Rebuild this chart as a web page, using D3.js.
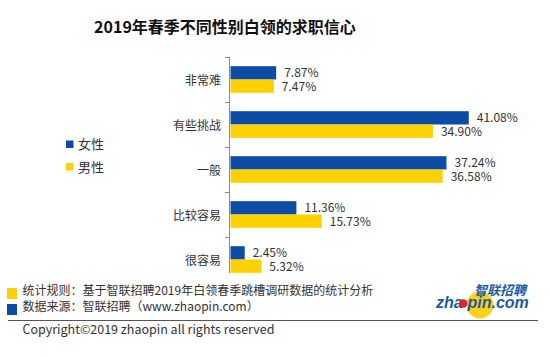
<!DOCTYPE html>
<html><head><meta charset="utf-8">
<script src="https://cdn.jsdelivr.net/npm/d3@7"></script>
<style>
body{margin:0;background:#fff;}
svg{display:block;font-family:"Noto Sans CJK SC","Noto Sans",sans-serif;}
</style></head>
<body>
<svg id="chart" width="550" height="357"></svg>
<script>
const title = "2019年春季不同性别白领的求职信心";
const categories = ["非常难", "有些挑战", "一般", "比较容易", "很容易"];
const seriesNames = ["女性", "男性"];
const female = [7.87, 41.08, 37.24, 11.36, 2.45];
const male = [7.47, 34.90, 36.58, 15.73, 5.32];
const colors = ["#0c4ca6", "#fdd000"];
const footnotes = ["统计规则：基于智联招聘2019年白领春季跳槽调研数据的统计分析", "数据来源：智联招聘（www.zhaopin.com）"];
const copyright = "Copyright©2019 zhaopin all rights reserved";

const svg = d3.select("#chart");
svg.append("rect").attr("width",550).attr("height",357).attr("fill","#fff");

svg.append("text").attr("x",225).attr("y",33).attr("text-anchor","middle")
  .attr("font-size",16).attr("font-weight","bold").attr("fill","#111").text(title);

const y = d3.scaleBand().domain(categories).range([57, 282]).padding(0);
const sub = d3.scaleBand().domain(seriesNames).range([0, y.bandwidth()]).paddingInner(0).paddingOuter(0.69);
const x = d3.scaleLinear().domain([0, 50]).range([230, 520]);

const data = categories.map((c,i)=>({cat:c, vals:[female[i], male[i]]}));

const g = svg.append("g");
data.forEach(d=>{
  d.vals.forEach((v,j)=>{
    const yy = y(d.cat) + sub(seriesNames[j]);
    g.append("rect").attr("x", x(0)+0.5).attr("y", yy)
      .attr("width", x(v)-x(0)).attr("height", sub.bandwidth()).attr("fill", colors[j]);
    g.append("text").attr("x", x(v)+8.5).attr("y", yy+sub.bandwidth()/2 + (j===0?-0.5:0.5))
      .attr("dy","0.35em").attr("font-size",12).attr("fill","#333")
      .text(v.toFixed(2)+"%");
  });
  g.append("text").attr("x",221).attr("y", y(d.cat)+y.bandwidth()/2+1)
    .attr("dy","0.35em").attr("text-anchor","end").attr("font-size",12).attr("fill","#333").text(d.cat);
});

// axis
const ax = svg.append("g");
ax.append("line").attr("x1",229.5).attr("x2",229.5).attr("y1",57).attr("y2",282).attr("stroke","#8c8c8c");
const bounds = categories.map(c=>y(c)).concat([y(categories[categories.length-1])+y.bandwidth()]);
bounds.forEach(b=>{
  ax.append("line").attr("x1",225).attr("x2",229.5).attr("y1",Math.round(b)+0.5).attr("y2",Math.round(b)+0.5).attr("stroke","#8c8c8c");
});

// legend
seriesNames.forEach((s,i)=>{
  const ly = 144.5 + i*22.5;
  svg.append("rect").attr("x",66).attr("y",ly-4).attr("width",7.5).attr("height",7.5).attr("fill",colors[i]);
  svg.append("text").attr("x",78).attr("y",ly).attr("dy","0.35em").attr("font-size",13).attr("fill","#333").text(s);
});

// footer (covers bottom of chart)
svg.append("rect").attr("x",0).attr("y",273).attr("width",550).attr("height",84).attr("fill","#fff");
const fcols = [colors[1], colors[0]];
footnotes.forEach((t,i)=>{
  const fy = 291 + i*16;
  svg.append("rect").attr("x",7).attr("y",fy-3).attr("width",10).attr("height",11).attr("fill",fcols[i]);
  svg.append("text").attr("x",22.5).attr("y",fy).attr("dy","0.35em").attr("font-size",12).attr("fill","#333").text(t);
});
svg.append("line").attr("x1",8).attr("x2",538).attr("y1",320.5).attr("y2",320.5).attr("stroke","#555").attr("stroke-width",1.2);
svg.append("text").attr("x",22.5).attr("y",330).attr("dy","0.35em").attr("font-size",12.5).attr("fill","#333").text(copyright);

// logo
const logo = svg.append("g");
logo.append("circle").attr("cx",480).attr("cy",305).attr("r",13.5).attr("fill","#fbd217");
logo.append("text").attr("x",436).attr("y",308).attr("font-size",16).attr("font-weight","bold")
  .attr("font-style","italic").attr("font-family","Liberation Sans, Arial, sans-serif").attr("fill","#1b5aa8").text("zha");
logo.append("circle").attr("cx",463.3).attr("cy",303.5).attr("r",4.2).attr("fill","#d8262a");
logo.append("text").attr("x",467.5).attr("y",308).attr("font-size",16).attr("font-weight","bold")
  .attr("font-style","italic").attr("font-family","Liberation Sans, Arial, sans-serif").attr("fill","#1b5aa8").text("pin.com");
logo.append("text").attr("x",474).attr("y",294.5).attr("font-size",13).attr("font-weight","bold")
  .attr("font-style","italic").attr("fill","#1b5aa8").text("智联招聘");
</script>
</body></html>
